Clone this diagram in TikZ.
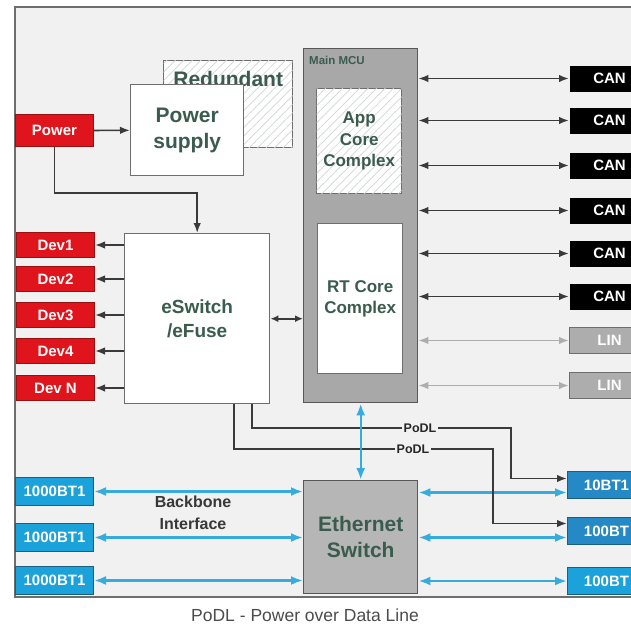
\documentclass[tikz,border=0pt]{standalone}
\usepackage{fontspec}
\setmainfont{Liberation Sans}
\usetikzlibrary{arrows.meta,positioning,patterns.meta,calc}
\definecolor{frameGray}{HTML}{F1F1F1}
\definecolor{edgeGray}{HTML}{6E6E6E}
\definecolor{wireGray}{HTML}{3A3A3A}
\definecolor{mcuGray}{HTML}{A8A8A8}
\definecolor{swGray}{HTML}{B6B6B6}
\definecolor{hatchGray}{HTML}{D2D6D6}
\definecolor{pwrRed}{HTML}{E0141C}
\definecolor{pwrEdge}{HTML}{9A1010}
\definecolor{ethBlue}{HTML}{1CA2DA}
\definecolor{ethDark}{HTML}{2489C4}
\definecolor{ethEdge}{HTML}{1A5E80}
\definecolor{lineBlue}{HTML}{35ACDD}
\definecolor{textGreen}{HTML}{3A5C4E}
\definecolor{linGray}{HTML}{ADADAD}
\tikzset{
  blockbox/.style={draw=edgeGray, line width=1.4pt, fill=white, anchor=north west,
    inner sep=0pt, align=center, text=textGreen},
  hatchbox/.style={blockbox, postaction={pattern={Lines[angle=45,distance=6pt,line width=0.7pt]},
    pattern color=hatchGray}},
  chipbox/.style={blockbox, draw=edgeGray!80!black},
  bigtext/.style={font=\bfseries\fontsize{21}{26}\selectfont},
  coretext/.style={font=\bfseries\fontsize{17}{21.5}\selectfont},
  portbox/.style={anchor=north west, inner sep=0pt, minimum width=78pt, text=white,
    line width=1pt, font=\bfseries\fontsize{15}{17}\selectfont},
  redport/.style={portbox, fill=pwrRed, draw=pwrEdge},
  blueport/.style={portbox, fill=ethBlue, draw=ethEdge},
  canport/.style={portbox, fill=black, minimum width=80pt, minimum height=26pt},
  linport/.style={portbox, fill=linGray, draw=edgeGray, minimum width=80pt, minimum height=26pt},
  pwrflow/.style={->, line width=1.7pt, draw=wireGray},
  busflow/.style={<->, line width=1.7pt, draw=wireGray},
  linflow/.style={<->, line width=1.7pt, draw=linGray},
  ethflow/.style={{Latex[length=12pt,width=9pt]}-{Latex[length=12pt,width=9pt]}, line width=2.4pt, draw=lineBlue},
  podltag/.style={fill=frameGray, inner sep=1.5pt, text=black!85,
    font=\bfseries\fontsize{12.5}{14}\selectfont},
  labeltext/.style={text=black!78, align=center, font=\bfseries\fontsize{16}{22}\selectfont}
}
\begin{document}
\begin{tikzpicture}[x=1pt, y=-1pt, >={Latex[length=10pt,width=7.5pt]}]
  \clip (0,0) rectangle (631,626);
  \fill[white] (0,0) rectangle (631,626);
  \draw[fill=frameGray, draw=edgeGray, line width=1.5pt] (15,7) rectangle (660,597);

  % power path
  \node[hatchbox, minimum width=129pt, minimum height=87pt] (redun) at (163,60) {};
  \node[bigtext, text=textGreen, below=8pt of redun.north] (redunTxt) {Redundant};
  \node[blockbox, bigtext, minimum width=113pt, minimum height=91pt] (psu) at (130,84) {Power\\supply};
  \node[redport, minimum height=32pt] (power) at (15,114) {Power};
  \node[blockbox, font=\bfseries\fontsize{19}{24}\selectfont, minimum width=145pt, minimum height=170pt] (esw) at (124,233) {eSwitch\\/eFuse};

  \foreach \i/\lbl/\yy in {1/Dev1/232, 2/Dev2/266, 3/Dev3/302, 4/Dev4/338, 5/Dev N/375}{
    \node[redport, minimum height=25pt] (dev\i) at (16,\yy) {\lbl};
    \draw[pwrflow] (esw.west |- dev\i) -- (dev\i.east);
  }
  \draw[pwrflow] (power) -- (psu);
  \draw[pwrflow] (power.south) -- ++(0,46) -| (esw.north);

  % main MCU
  \node[chipbox, fill=mcuGray, minimum width=114pt, minimum height=354pt] (mcu) at (303,48) {};
  \node[anchor=north west, inner sep=0pt, text=textGreen, font=\bfseries\fontsize{11.5}{13}\selectfont]
    (mcuTag) at ([xshift=6pt,yshift=-8pt]mcu.north west) {Main MCU};
  \node[hatchbox, coretext, minimum width=85pt, minimum height=105pt] (appcore) at (316,88) {App\\Core\\Complex};
  \node[blockbox, coretext, minimum width=85pt, minimum height=150pt] (rtcore) at (317,223) {RT Core\\Complex};
  \draw[busflow, >={Latex[length=8pt,width=7pt]}] (esw.east) -- (esw.east -| mcu.west);

  \foreach \i/\yy in {1/65, 2/107, 3/152, 4/197, 5/240, 6/283}{
    \node[canport] (can\i) at (569,\yy) {CAN};
    \draw[busflow] (can\i.west -| mcu.east) -- (can\i.west);
  }
  \foreach \i/\yy in {1/327, 2/372}{
    \node[linport] (lin\i) at (569,\yy) {LIN};
    \draw[linflow] (lin\i.west -| mcu.east) -- (lin\i.west);
  }

  % ethernet
  \node[chipbox, bigtext, fill=swGray, minimum width=114pt, minimum height=113pt] (eth) at (303,480) {Ethernet\\Switch};
  \foreach \i/\yy in {1/477, 2/523, 3/566}{
    \node[blueport, minimum height=28pt] (bb\i) at (15,\yy) {1000BT1};
    \draw[ethflow] (bb\i.east) -- (bb\i.east -| eth.west);
  }
  \node[labeltext] (bbTxt) at (193,513) {Backbone\\Interface};

  \node[blueport, fill=ethDark, minimum height=27pt] (bt10) at (567,471) {10BT1};
  \node[blueport, fill=ethDark, minimum height=27pt] (bt100a) at (567,517) {100BT};
  \node[blueport, minimum height=27pt] (bt100b) at (567,567) {100BT};
  \coordinate (bt10top) at ([yshift=6.5pt]bt10.west);
  \coordinate (bt10low) at ([yshift=-7.5pt]bt10.west);
  \coordinate (bt100top) at ([yshift=7.5pt]bt100a.west);
  \coordinate (bt100low) at ([yshift=-6.5pt]bt100a.west);
  \draw[ethflow] (bt10low -| eth.east) -- (bt10low);
  \draw[ethflow] (bt100low -| eth.east) -- (bt100low);
  \draw[ethflow] (bt100b.west -| eth.east) -- (bt100b.west);

  % PoDL feeds from the eFuse
  \coordinate (podlA) at ([xshift=54.5pt]esw.south);
  \coordinate (podlB) at ([xshift=36.5pt]esw.south);
  \coordinate (turnA) at (511,428);
  \coordinate (turnB) at (493,449);
  \draw[pwrflow] (podlA) |- (turnA) |- (bt10top);
  \draw[pwrflow] (podlB) |- (turnB) |- (bt100top);
  \node[podltag] (podlTxtA) at (420,428) {PoDL};
  \node[podltag] (podlTxtB) at (413,449) {PoDL};
  \draw[ethflow] (mcu) -- (eth);

  \node[text=black!70, inner sep=1pt, font=\fontsize{17.5}{20}\selectfont] (caption) at (305,615) {PoDL - Power over Data Line};
\end{tikzpicture}
\end{document}
